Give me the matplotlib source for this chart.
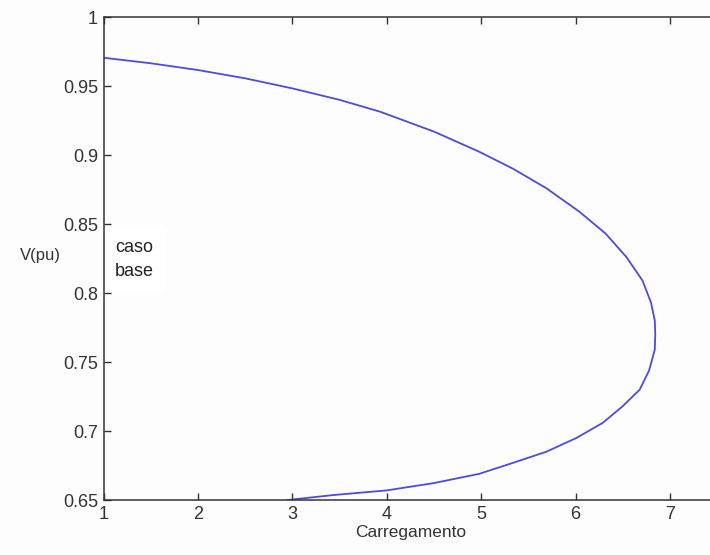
import matplotlib
matplotlib.use("Agg")
import matplotlib.pyplot as plt

# curva PV (nariz): carregamento x tensao, ramo superior e depois ramo inferior
carregamento = [1.0, 1.5, 2.0, 2.5, 3.0, 3.5, 3.93, 4.5, 4.98, 5.34, 5.69, 6.04,
                6.32, 6.54, 6.71, 6.80, 6.84, 6.845, 6.84, 6.78, 6.68, 6.50, 6.29,
                6.01, 5.69, 5.34, 4.98, 4.5, 4.0, 3.43, 2.95]
tensao = [0.9705, 0.9665, 0.9616, 0.9556, 0.9483, 0.940, 0.9314, 0.917, 0.9024,
          0.890, 0.876, 0.859, 0.843, 0.826, 0.809, 0.793, 0.780, 0.770, 0.759,
          0.744, 0.730, 0.718, 0.706, 0.695, 0.685, 0.677, 0.669, 0.6623, 0.657,
          0.6536, 0.650]

xticks = [1, 2, 3, 4, 5, 6, 7]
yticks = [0.65, 0.7, 0.75, 0.8, 0.85, 0.9, 0.95, 1.0]
ytick_labels = ["0.65", "0.7", "0.75", "0.8", "0.85", "0.9", "0.95", "1"]

plt.rcParams['font.family'] = ['Liberation Sans', 'DejaVu Sans']

fig = plt.figure(figsize=(7.1, 5.55), dpi=100)
fig.patch.set_facecolor('#fdfdfd')
ax = fig.add_axes([0.1458, 0.099, 0.8642, 0.8703])
ax.set_facecolor('#fdfdfd')

ax.plot(carregamento, tensao, color='#4b4be0', lw=1.3, solid_joinstyle='round')

ax.set_xlim(1, 7.5)
ax.set_ylim(0.65, 1.0)
ax.set_xticks(xticks)
ax.set_xticklabels([str(t) for t in xticks])
ax.set_yticks(yticks)
ax.set_yticklabels(ytick_labels)

# eixos no estilo matlab: marcas para dentro nos quatro lados
ax.tick_params(direction='in', length=5, width=1, top=True, right=True,
               labelsize=13, colors='#333333', pad=4)
for s in ax.spines.values():
    s.set_color('#333333')
    s.set_linewidth(1.1)

ax.set_xlabel('Carregamento', fontsize=12.5, color='#333333', labelpad=2)
ax.set_ylabel('V(pu)', fontsize=12, color='#333333', rotation=0, labelpad=0,
              ha='center', va='center')
ax.yaxis.set_label_coords(-0.103, 0.507)

# caixa branca por baixo das bordas do eixo
ax.text(1.12, 0.8246, 'caso\nbase', fontsize=13, color='#222222', va='center',
        ha='left', linespacing=1.55, zorder=2,
        bbox=dict(facecolor='white', edgecolor='none', pad=8))

fig.savefig('out.png', dpi=100, facecolor=fig.get_facecolor())
